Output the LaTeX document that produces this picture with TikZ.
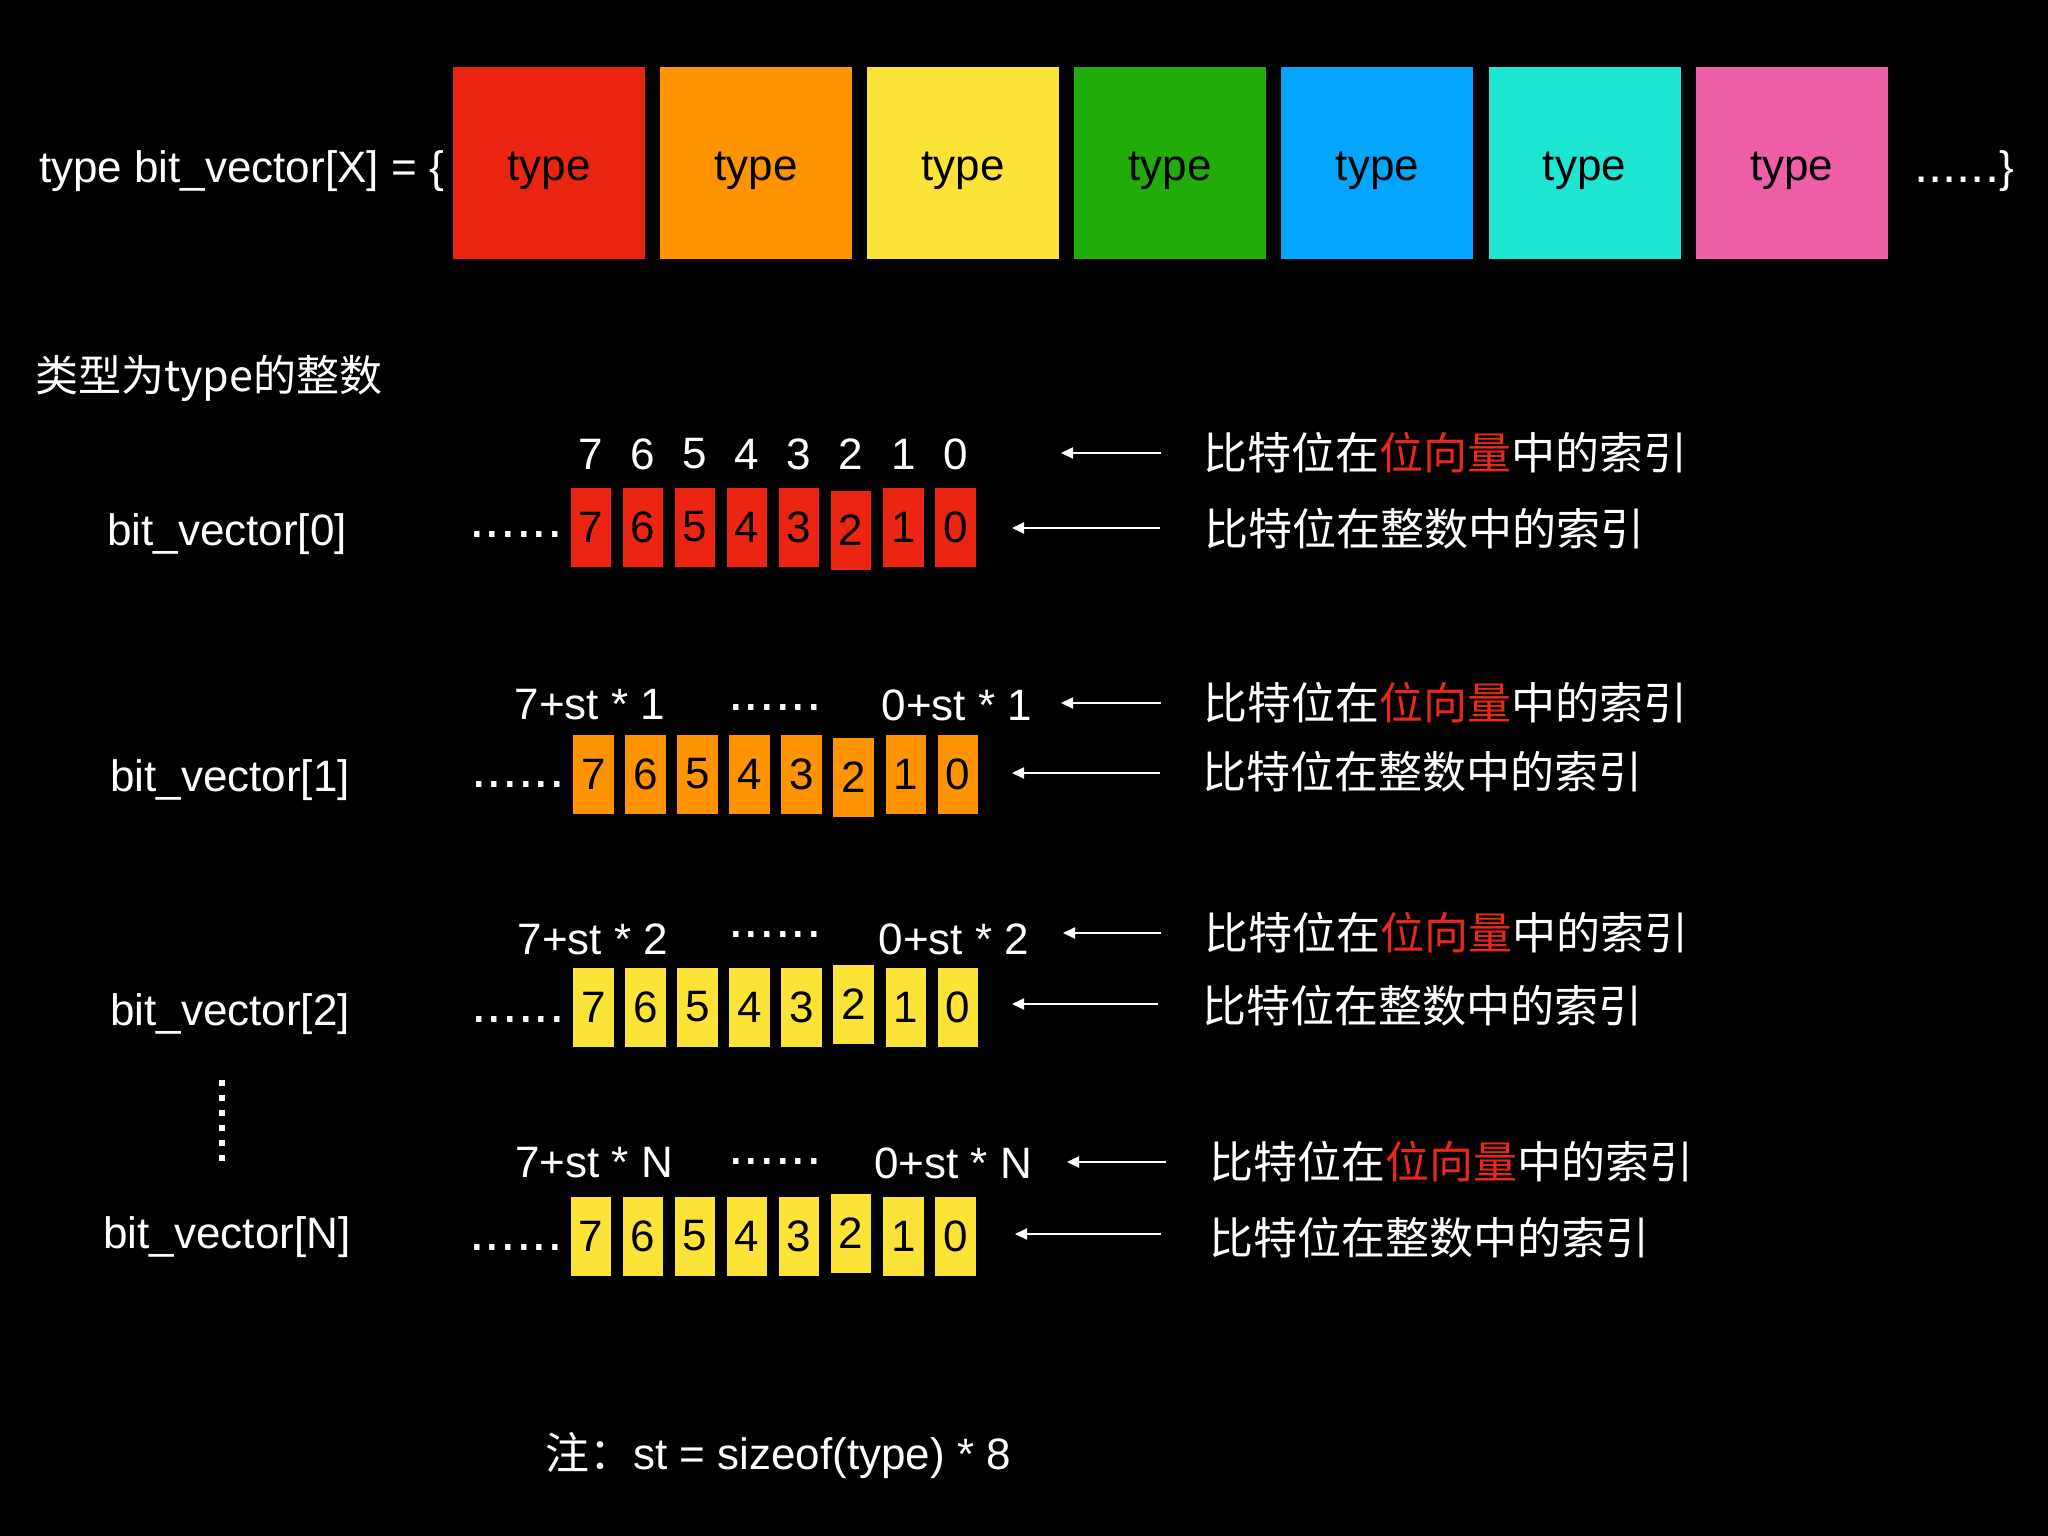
\documentclass[tikz,border=0pt]{standalone}
\usepackage{fontspec}
\setmainfont{Liberation Sans}
\newfontfamily\cjk{Noto Sans CJK SC}
\usetikzlibrary{arrows.meta}
\definecolor{cred}{HTML}{EC2412}
\definecolor{corange}{HTML}{FF9300}
\definecolor{cyellow}{HTML}{FCE338}
\definecolor{cgreen}{HTML}{22AC0A}
\definecolor{cblue}{HTML}{04A5FF}
\definecolor{ccyan}{HTML}{1DE6D2}
\definecolor{cpink}{HTML}{EE5FA7}
\definecolor{vred}{HTML}{E8281C}
\newcommand\fsz{\fontsize{44}{52}\selectfont}
\newcommand\dotfs{\fontsize{56}{60}\selectfont}
\tikzset{
  typebox/.style={minimum width=192pt, minimum height=192pt, inner sep=0pt, text=black},
  bitbox/.style={minimum width=40.5pt, minimum height=79pt, inner sep=0pt, text=black},
  cjktext/.style={anchor=west, font=\fsz\cjk},
  dotstext/.style={font=\dotfs},
  arr/.style={draw=white, line width=2pt, -{Triangle[length=12pt,width=11pt]}},
}
\begin{document}
\begin{tikzpicture}[x=1pt,y=-1pt, every node/.style={inner sep=0pt, font=\fsz, text=white}]
\fill[black] (0,0) rectangle (2048,1536);
\useasboundingbox (0,0) rectangle (2048,1536);

% top declaration
\node[anchor=east] (decl) at (444,171) {type bit\_vector[X] = \{};
\foreach \c [count=\i from 0] in {cred,corange,cyellow,cgreen,cblue,ccyan,cpink} {
  \node[typebox, fill=\c] (t\i) at (549+\i*207.1, 162.6) {};
  \node[text=black] (tl\i) at (549+\i*207.1, 170.5) {type};
}
\node[anchor=west] (tail) at (1914,171) {{\fontsize{51}{56}\selectfont ......}\}};

\node[cjktext] (sub) at (35,378) {\fontsize{43}{50}\selectfont 类型为type的整数};

% ---------- row 0 ----------
\node (v0) at (227,534) {bit\_vector[0]};
\node[dotstext] (r0dots) at (516,535) {......};
\foreach \d [count=\k from 0] in {7,6,5,4,3,2,1,0} {
  \pgfmathsetmacro\dy{(\d==2)*3}
  \node[bitbox, fill=cred] (r0b\d) at (591+\k*52.04, 527+\dy) {\d};
  \node (r0l\d) at (591+\k*52.04, 454) {\d};
}
\coordinate (r0a1s) at (1161,453); \coordinate (r0a1e) at (1061,453);
\coordinate (r0a2s) at (1160,528); \coordinate (r0a2e) at (1012,528);
\draw[arr] (r0a1s) -- (r0a1e);
\draw[arr] (r0a2s) -- (r0a2e);
\node[cjktext] (r0t1) at (1203,453) {比特位在\textcolor{vred}{位向量}中的索引};
\node[cjktext] (r0t2) at (1204,529) {比特位在整数中的索引};

% ---------- row 1 ----------
\node (v1) at (230,780) {bit\_vector[1]};
\node[dotstext] (r1dots) at (518,784) {......};
\foreach \d [count=\k from 0] in {7,6,5,4,3,2,1,0} {
  \pgfmathsetmacro\dy{(\d==2)*3}
  \node[bitbox, fill=corange] (r1b\d) at (593.5+\k*52.04, 774+\dy) {\d};
}
\node (r1hi) at (590,705) {7+st * 1};
\node[dotstext] (r1mid) at (775,707) {......};
\node (r1lo) at (957,705) {0+st * 1};
\coordinate (r1a1s) at (1161,703); \coordinate (r1a1e) at (1061,703);
\coordinate (r1a2s) at (1160,773); \coordinate (r1a2e) at (1012,773);
\draw[arr] (r1a1s) -- (r1a1e);
\draw[arr] (r1a2s) -- (r1a2e);
\node[cjktext] (r1t1) at (1203,703) {比特位在\textcolor{vred}{位向量}中的索引};
\node[cjktext] (r1t2) at (1202,772) {比特位在整数中的索引};

% ---------- row 2 ----------
\node (v2) at (230,1014) {bit\_vector[2]};
\node[dotstext] (r2dots) at (518,1019) {......};
\foreach \d [count=\k from 0] in {7,6,5,4,3,2,1,0} {
  \pgfmathsetmacro\dy{(\d==2)*3}
  \node[bitbox, fill=cyellow] (r2b\d) at (593.5+\k*52.04, 1007-\dy) {\d};
}
\node (r2hi) at (593,939) {7+st * 2};
\node[dotstext] (r2mid) at (775,934) {......};
\node (r2lo) at (954,939) {0+st * 2};
\coordinate (r2a1s) at (1161,933); \coordinate (r2a1e) at (1063,933);
\coordinate (r2a2s) at (1158,1004); \coordinate (r2a2e) at (1012,1004);
\draw[arr] (r2a1s) -- (r2a1e);
\draw[arr] (r2a2s) -- (r2a2e);
\node[cjktext] (r2t1) at (1204,933) {比特位在\textcolor{vred}{位向量}中的索引};
\node[cjktext] (r2t2) at (1202,1006) {比特位在整数中的索引};

% vertical dots
\foreach \j in {0,...,5} {
  \fill[white] (219,1080+\j*14.9) rectangle +(6,6);
}

% ---------- row N ----------
\node (vN) at (227,1237) {bit\_vector[N]};
\node[dotstext] (rNdots) at (516,1247) {......};
\foreach \d [count=\k from 0] in {7,6,5,4,3,2,1,0} {
  \pgfmathsetmacro\dy{(\d==2)*3}
  \node[bitbox, fill=cyellow] (rNb\d) at (591+\k*52.04, 1236-\dy) {\d};
}
\node (rNhi) at (594,1163) {7+st * N};
\node[dotstext] (rNmid) at (775,1161) {......};
\node (rNlo) at (953,1163) {0+st * N};
\coordinate (rNa1s) at (1166,1162); \coordinate (rNa1e) at (1067,1162);
\coordinate (rNa2s) at (1161,1234); \coordinate (rNa2e) at (1015,1234);
\draw[arr] (rNa1s) -- (rNa1e);
\draw[arr] (rNa2s) -- (rNa2e);
\node[cjktext] (rNt1) at (1209,1162) {比特位在\textcolor{vred}{位向量}中的索引};
\node[cjktext] (rNt2) at (1209,1238) {比特位在整数中的索引};

% note
\node[anchor=west] (note) at (545,1455) {{\cjk 注：}st = sizeof(type) * 8};
\end{tikzpicture}
\end{document}
